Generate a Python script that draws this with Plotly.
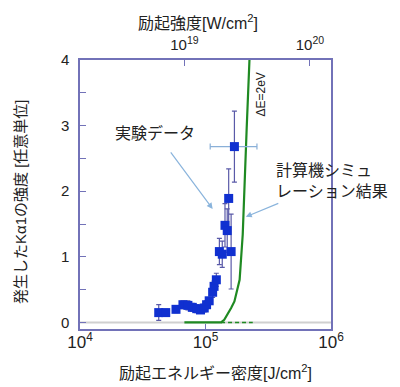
import plotly.graph_objects as go

# experimental data (J/cm^2, arb. units)
exp_x = [4.24e4, 4.82e4, 5.82e4, 6.61e4, 7.24e4, 7.85e4, 8.51e4, 9.12e4, 9.77e4,
         1.02e5, 1.07e5, 1.14e5, 1.17e5, 1.22e5, 1.29e5, 1.36e5, 1.43e5, 1.49e5,
         1.53e5, 1.60e5]
exp_y = [0.15, 0.15, 0.20, 0.27, 0.26, 0.23, 0.21, 0.19, 0.22,
         0.27, 0.33, 0.46, 0.55, 0.65, 1.08, 1.04, 1.48, 1.40,
         1.89, 1.08]
exp_err = [0.12, 0.05, 0.05, 0.06, 0.07, 0.06, 0.06, 0.05, 0.06,
           0.06, 0.05, 0.08, 0.08, 0.10, 0.20, 0.20, 0.33, 0.33,
           0.45, 0.57]
top_x = [1.70e5]
top_y = [2.68]
top_err_y = [0.54]
top_err_xp = [0.87e5]
top_err_xm = [0.61e5]

# simulation
sim_x = [6.79e4, 1.33e5, 1.41e5, 1.50e5, 1.60e5, 1.70e5, 1.80e5, 1.87e5,
         1.98e5, 2.07e5, 2.13e5, 2.24e5]
sim_y = [0, 0, 0.04, 0.12, 0.22, 0.32, 0.50, 0.65, 1.34, 2.2, 2.97, 4.0]
dash_x = [1.33e5, 2.38e5]
dash_y = [0, 0]

top_ticks = [1e19, 1e20]
top_labels = ["10<sup>19</sup>", "10<sup>20</sup>"]
bottom_ticks = [1e4, 1e5, 1e6]
bottom_labels = ["10<sup>4</sup>", "10<sup>5</sup>", "10<sup>6</sup>"]

AX = "#7272b8"
FONT = "Liberation Sans, Noto Sans CJK JP"
GREEN = "#1f8a22"

fig = go.Figure()
fig.add_trace(go.Scatter(x=sim_x, y=sim_y, mode="lines",
                         line=dict(color=GREEN, width=2.2), showlegend=False))
fig.add_trace(go.Scatter(x=dash_x, y=dash_y, mode="lines",
                         line=dict(color=GREEN, width=1.6, dash="4px,3px"), showlegend=False))
fig.add_trace(go.Scatter(x=exp_x, y=exp_y, mode="markers",
                         marker=dict(symbol="square", size=9, color="#1030d0"),
                         error_y=dict(type="data", array=exp_err, color="#5a5aa8",
                                      thickness=1.2, width=2.5),
                         showlegend=False))
fig.add_trace(go.Scatter(x=top_x, y=top_y, mode="markers",
                         marker=dict(symbol="square", size=9, color="#1030d0"),
                         error_y=dict(type="data", array=top_err_y, color="#5a5aa8",
                                      thickness=1.2, width=2.5),
                         error_x=dict(type="data", array=top_err_xp, arrayminus=top_err_xm,
                                      color="#8ab0d8", thickness=1.2, width=3),
                         showlegend=False))
# invisible trace for top axis
fig.add_trace(go.Scatter(x=top_ticks, y=[None, None], xaxis="x2", mode="markers",
                         showlegend=False, hoverinfo="skip"))

fig.add_shape(type="line", xref="paper", x0=0, x1=1, yref="y", y0=0, y1=0,
              line=dict(color="#d0d0d0", width=2), layer="below")

fig.update_layout(
    width=400, height=387,
    margin=dict(l=72, r=77, t=52, b=66),
    plot_bgcolor="white", paper_bgcolor="white",
    font=dict(family=FONT, color="#222222"),
    xaxis=dict(type="log", range=[4, 6], tickvals=bottom_ticks, ticktext=bottom_labels,
               showline=True, linecolor=AX, linewidth=1.5, mirror=False,
               ticks="inside", ticklen=5, tickcolor=AX, showgrid=False, zeroline=False,
               tickfont=dict(size=17, family=FONT), ticklabelstandoff=-3),
    xaxis2=dict(type="log", range=[18.168, 20.168], tickvals=top_ticks, ticktext=top_labels,
                overlaying="x", side="top",
                showline=True, linecolor=AX, linewidth=1.5,
                ticks="inside", ticklen=6, tickcolor=AX, showgrid=False, zeroline=False,
                tickfont=dict(size=15, family=FONT), ticklabelstandoff=2),
    yaxis=dict(range=[-0.1, 4], tickvals=[0, 1, 2, 3, 4],
               showline=True, linecolor=AX, linewidth=1.5, mirror=True,
               ticks="inside", ticklen=6, tickcolor=AX, showgrid=False, zeroline=False,
               minor=dict(dtick=0.5, ticks="inside", ticklen=6, tickcolor=AX),
               tickfont=dict(size=15, family=FONT), ticklabelstandoff=6),
)

ann = []
ann.append(dict(text="励起強度[W/cm<sup>2</sup>]", xref="paper", yref="paper",
                x=(190 - 72) / 251, y=(387 - 14 - 66) / 269, showarrow=False,
                font=dict(size=16), xanchor="center", yanchor="middle"))
ann.append(dict(text="励起エネルギー密度[J/cm<sup>2</sup>]", xref="paper", yref="paper",
                x=(207 - 72) / 251, y=(387 - 364 - 66) / 269, showarrow=False,
                font=dict(size=16), xanchor="center", yanchor="middle"))
ann.append(dict(text="発生したKα1の強度 [任意単位]", xref="paper", yref="paper",
                x=(13 - 72) / 251, y=(387 - 194 - 66) / 269, showarrow=False,
                font=dict(size=15), textangle=-90, xanchor="center", yanchor="middle"))
ann.append(dict(text="実験データ", xref="x", yref="y", x=4 + (147 - 72.5) / 125.3,
                y=(314.3 - 125) / 65.5, showarrow=False, font=dict(size=16),
                xanchor="center", yanchor="middle"))
ann.append(dict(text="計算機シミュ<br>レーション結果", xref="x", yref="y",
                x=4 + (266 - 72.5) / 125.3, y=(314.3 - 173) / 65.5, showarrow=False,
                font=dict(size=16), xanchor="left", yanchor="middle", align="left"))
ann.append(dict(text="ΔE=2eV", xref="x", yref="y", x=4 + (253 - 72.5) / 125.3,
                y=(314.3 - 87) / 65.5, showarrow=False, font=dict(size=12),
                textangle=-90, xanchor="center", yanchor="middle"))
ann.append(dict(text="", xref="x", yref="y", x=5.057, y=1.73, ax=-43, ay=-58,
                showarrow=True, arrowhead=2, arrowsize=1, arrowwidth=1.2,
                arrowcolor="#8ab4dc"))
ann.append(dict(text="", xref="x", yref="y", x=5.321, y=1.61, ax=34, ay=-14,
                showarrow=True, arrowhead=2, arrowsize=1, arrowwidth=1.2,
                arrowcolor="#8ab4dc"))
fig.update_layout(annotations=ann)

fig.write_html("out.html")
